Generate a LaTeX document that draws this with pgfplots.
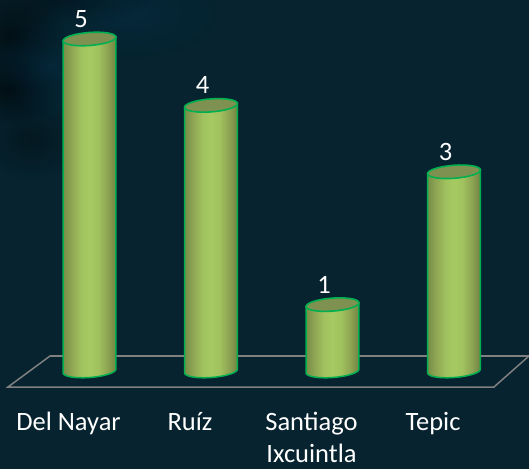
\documentclass[border=0pt]{standalone}
\usepackage{pgfplots}
\pgfplotsset{compat=1.18}
\usepackage{fontspec}
\setmainfont{Carlito}
\usetikzlibrary{fadings}
\definecolor{bg}{HTML}{06232F}
\definecolor{cyltop}{HTML}{7F9150}
\definecolor{cylline}{HTML}{00B050}
\definecolor{floorc}{HTML}{808080}
\tikzfading[name=soft,inner color=transparent!0,outer color=transparent!100]
\pgfdeclarehorizontalshading{cylsh}{100bp}{
  rgb(0bp)=(0.47,0.55,0.28);
  rgb(25bp)=(0.47,0.55,0.28);
  rgb(33bp)=(0.56,0.65,0.33);
  rgb(42bp)=(0.63,0.76,0.37);
  rgb(50bp)=(0.655,0.79,0.385);
  rgb(58bp)=(0.63,0.76,0.37);
  rgb(67bp)=(0.55,0.64,0.32);
  rgb(75bp)=(0.44,0.51,0.26);
  rgb(100bp)=(0.44,0.51,0.26)}
\pgfdeclareplotmark{cyl}{%
  \pgfmathsetmacro\h{\myv*66.4}%
  \path[shade,shading=cylsh,draw=cylline,line width=1.5pt]
    (-26.42pt,{(-1.99-\h)*1pt})
    .. controls (-26.15pt,{(-5.57-\h)*1pt}) and (-14.1pt,{(-7.58-\h)*1pt}) .. (0.49pt,{(-6.48-\h)*1pt})
    .. controls (15.08pt,{(-5.38-\h)*1pt}) and (26.69pt,{(-1.59-\h)*1pt}) .. (26.42pt,{(1.99-\h)*1pt})
    -- (26.42pt,1.99pt) -- (-26.42pt,-1.99pt) -- cycle;
  \path[fill=cyltop,draw=cylline,line width=1.6pt]
    (-26.42pt,-1.99pt)
    .. controls (-26.69pt,1.59pt) and (-15.08pt,5.38pt) .. (-0.49pt,6.48pt)
    .. controls (14.1pt,7.58pt) and (26.15pt,5.57pt) .. (26.42pt,1.99pt)
    .. controls (26.69pt,-1.59pt) and (15.08pt,-5.38pt) .. (0.49pt,-6.48pt)
    .. controls (-14.1pt,-7.58pt) and (-26.15pt,-5.57pt) .. (-26.42pt,-1.99pt) -- cycle;
}
\begin{document}
\begin{tikzpicture}
\path[use as bounding box,fill=bg] (0,0) rectangle (529pt,469pt);
% mottled backdrop
\fill[black,opacity=.55,path fading=soft] (10pt,434pt) ellipse [x radius=55pt,y radius=45pt];
\fill[black,opacity=.6,path fading=soft] (8pt,380pt) ellipse [x radius=55pt,y radius=35pt];
\fill[black,opacity=.3,path fading=soft] (30pt,330pt) ellipse [x radius=50pt,y radius=40pt];
\fill[black,opacity=.3,path fading=soft] (60pt,469pt) ellipse [x radius=90pt,y radius=25pt];
\fill[blue!50!cyan,opacity=.05,path fading=soft] (42pt,400pt) ellipse [x radius=50pt,y radius=50pt];
\fill[blue!50!cyan,opacity=.05,path fading=soft] (130pt,455pt) ellipse [x radius=90pt,y radius=45pt];
\begin{axis}[
  scale only axis,width=529pt,height=469pt,
  xmin=-0.7366,xmax=3.6173,ymin=-1.4759,ymax=5.5873,
  clip=false,
  axis line style={draw=none},
  ytick=\empty,
  xtick={0,1,2,3},
  xticklabels={Del Nayar,Ruíz,Santiago\\Ixcuintla,Tepic},
  major tick length=0pt,
  x tick label style={align=center,anchor=north,xshift=-21pt,yshift=60pt,text=white,font=\fontsize{26.5}{32}\selectfont},
]
\addplot[floorc,line width=1.5pt,mark=none] coordinates {(-0.325,0.226) (3.617,0.226)};
\addplot[floorc,line width=1.5pt,mark=none] coordinates {(-0.325,0.226) (-0.671,-0.241) (3.329,-0.241) (3.617,0.226)};
\addplot[only marks,scatter,scatter src=y,mark=cyl,
  visualization depends on={y \as \myv},
  nodes near coords,
  /pgf/number format/assume math mode=true,
  every node near coord/.style={anchor=center,xshift=-8.5pt,yshift=20pt,text=white,font=\fontsize{26.5}{32}\selectfont},
] coordinates {(0,5) (1,4) (2,1) (3,3)};
\end{axis}
\end{tikzpicture}
\end{document}
